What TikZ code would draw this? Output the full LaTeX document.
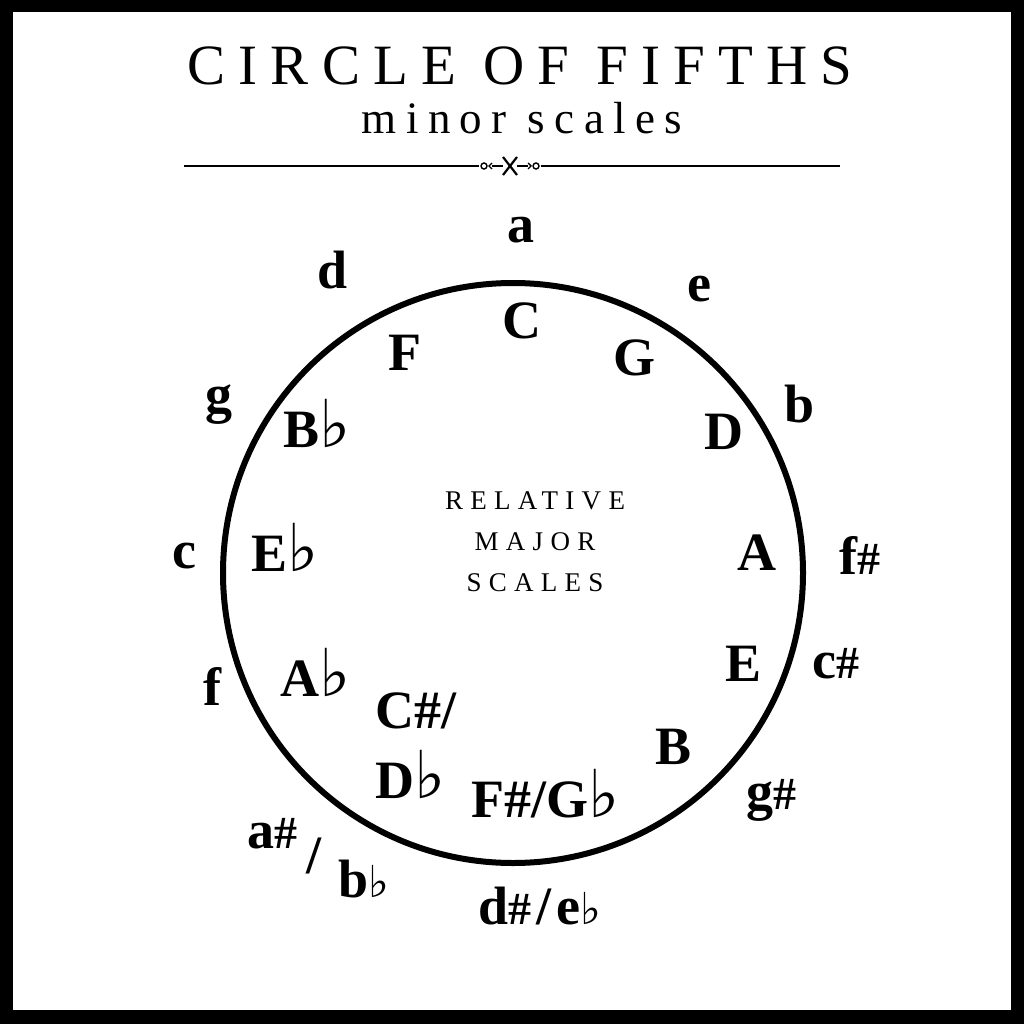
\documentclass[tikz,border=0pt]{standalone}
\usepackage{fontspec}
\usetikzlibrary{calc}
\setmainfont{Liberation Serif}
\newfontfamily\titlefont[LetterSpace=23]{Liberation Serif}
\newfontfamily\subfont[LetterSpace=21]{Liberation Serif}
\newfontfamily\capsfont[LetterSpace=27]{Liberation Serif}
\newfontfamily\symfont{DejaVu Sans}
\newcommand{\flt}{{\mdseries\symfont\fontsize{66}{66}\selectfont ♭}}
\newcommand{\sflt}{{\mdseries\symfont\fontsize{44}{44}\selectfont ♭}}
\newcommand{\sshp}{{\fontsize{46}{46}\selectfont\#}}

\begin{document}
\begin{tikzpicture}[x=1pt,y=-1pt,
  major/.style={font=\bfseries\fontsize{54}{70}\selectfont,inner sep=0pt},
  minor/.style={font=\bfseries\fontsize{54}{70}\selectfont,inner sep=0pt},
  rule/.style={line width=2.2pt},
  ring/.style={line width=6pt}]
% frame
\fill[black] (0,0) rectangle (1024,1024);
\fill[white] (13,12) rectangle (1011,1010);

% heading
\node[font=\titlefont\fontsize{57}{60}\selectfont,inner sep=0pt] (title) at (520,66) {CIRCLE OF FIFTHS};
\node[font=\subfont\fontsize{45}{50}\selectfont,inner sep=0pt] (subtitle) at (522,118) {minor scales};

% rule with ornament
\coordinate (ruleL) at (184,166);
\coordinate (ruleR) at (840,166);
\coordinate (orn) at (510,166);
\draw[rule] (ruleL) -- ($(orn)+(-31,0)$);
\draw[rule] ($(orn)+(31,0)$) -- (ruleR);
\draw[line width=1.4pt] ($(orn)+(-26,0)$) circle[radius=3pt];
\draw[line width=1.4pt] ($(orn)+(-18,-3)$) -- ($(orn)+(-21,0)$) -- ($(orn)+(-18,3)$);
\draw[line width=1.4pt] ($(orn)+(26,0)$) circle[radius=3pt];
\draw[line width=1.4pt] ($(orn)+(18,-3)$) -- ($(orn)+(21,0)$) -- ($(orn)+(18,3)$);
\draw[line width=2.6pt] ($(orn)+(-18,0)$) -- ($(orn)+(-7,0)$);
\draw[line width=2.6pt] ($(orn)+(7,0)$) -- ($(orn)+(18,0)$);
\draw[line width=2.2pt] ($(orn)+(-7,-9)$) -- ($(orn)+(7,9)$);
\draw[line width=2.2pt] ($(orn)+(-7,9)$) -- ($(orn)+(7,-9)$);

% circle
\coordinate (centre) at (513,573);
\draw[ring] (centre) circle[radius=290pt];
\node[font=\capsfont\fontsize{27}{41}\selectfont,align=center,inner sep=0pt] (inner) at (535,542) {RELATIVE\\MAJOR\\SCALES};

% major keys
\node[major] (M-C) at (522,321) {C};
\node[major] (M-G) at (634,358) {G};
\node[major] (M-D) at (724,432) {D};
\node[major] (M-A) at (757,553) {A};
\node[major] (M-E) at (743,664) {E};
\node[major] (M-B) at (673,747) {B};
\node[major] (M-Gb) at (546,794) {F\#/G\flt};
\node[major,align=left,anchor=west] (M-Db) at (375,746) {C\#/\\D\flt};
\node[major] (M-Ab) at (316,672) {A\flt};
\node[major] (M-Eb) at (285,547) {E\flt};
\node[major] (M-Bb) at (317,423) {B\flt};
\node[major] (M-F) at (405,353) {F};

% minor keys
\node[minor] (m-a) at (521,230) {a};
\node[minor] (m-e) at (699,289) {e};
\node[minor] (m-b) at (800,404) {b};
\node[minor] (m-fs) at (860,555) {f\sshp};
\node[minor] (m-cs) at (836,664) {c\sshp};
\node[minor] (m-gs) at (771,800) {g\sshp};
\node[minor] (m-ds) at (540,906) {d\sshp\hspace{5pt}/\hspace{5pt}e\sflt};
\node[minor,anchor=base west] (m-as) at (247,848) {a\sshp\hspace{9pt}\raisebox{-25pt}{/}\hspace{17pt}\raisebox{-49pt}{b\sflt}};
\node[minor] (m-f) at (212,686) {f};
\node[minor] (m-c) at (184,556) {c};
\node[minor] (m-g) at (219,405) {g};
\node[minor] (m-d) at (333,270) {d};
\end{tikzpicture}
\end{document}
